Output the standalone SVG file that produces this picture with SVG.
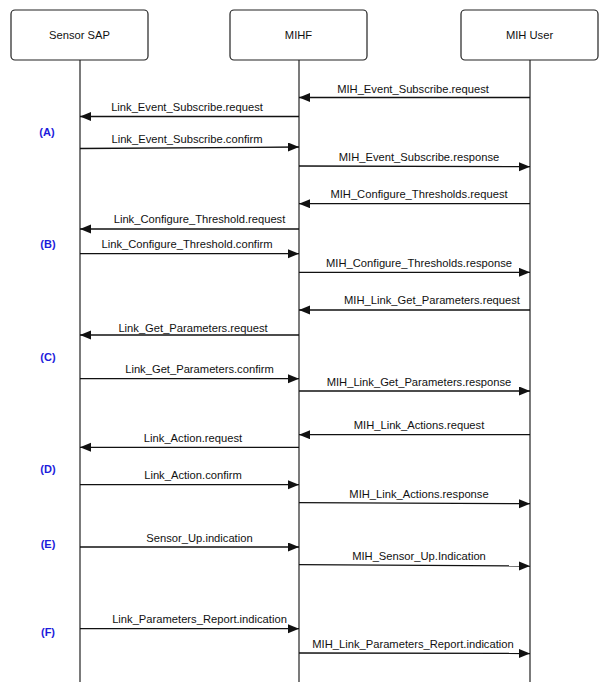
<svg xmlns="http://www.w3.org/2000/svg" width="612" height="682" viewBox="0 0 612 682">
<style>
.box{fill:#fff;stroke:#222;stroke-width:1.2}
.life{stroke:#222;stroke-width:1.2;fill:none}
.msg{stroke:#111;stroke-width:1.3;fill:none;marker-end:url(#ah)}
.t{font-family:"Liberation Sans",Arial,sans-serif;font-size:11.2px;fill:#111;text-anchor:middle}
.lbl{font-family:"Liberation Sans",Arial,sans-serif;font-size:11px;font-weight:bold;fill:#1c1cdc;text-anchor:middle}
</style>
<defs>
<marker id="ah" markerUnits="userSpaceOnUse" markerWidth="12" markerHeight="10" refX="11" refY="4.5" orient="auto">
<path d="M0,0 L11,4.5 L0,9 z" fill="#111"/>
</marker>
</defs>
<rect width="612" height="682" fill="#fff"/>
<g id="sensor-sap">
<rect class="box" x="11" y="10" width="137" height="50" rx="4"/>
<text class="t" x="79.5" y="39">Sensor SAP</text>
<line class="life" x1="80" y1="60" x2="80" y2="682"/>
</g>
<g id="mihf">
<rect class="box" x="230" y="10" width="137" height="50" rx="4"/>
<text class="t" x="298.5" y="39">MIHF</text>
<line class="life" x1="299" y1="60" x2="299" y2="682"/>
</g>
<g id="mih-user">
<rect class="box" x="461" y="10" width="137" height="50" rx="4"/>
<text class="t" x="529.5" y="39">MIH User</text>
<line class="life" x1="530" y1="60" x2="530" y2="682"/>
</g>
<g id="phase-labels">
<text class="lbl" x="47" y="136">(A)</text>
<text class="lbl" x="48" y="248">(B)</text>
<text class="lbl" x="48" y="361">(C)</text>
<text class="lbl" x="48" y="473">(D)</text>
<text class="lbl" x="48" y="548">(E)</text>
<text class="lbl" x="48" y="636">(F)</text>
</g>
<g id="connectors">
<line class="msg" x1="530" y1="97.5" x2="299" y2="97.5"/>
<text class="t" x="413" y="93">MIH_Event_Subscribe.request</text>
<line class="msg" x1="299" y1="116.5" x2="80" y2="116.5"/>
<text class="t" x="187" y="111">Link_Event_Subscribe.request</text>
<line class="msg" x1="80" y1="148.5" x2="299" y2="147"/>
<text class="t" x="187" y="143">Link_Event_Subscribe.confirm</text>
<line class="msg" x1="299" y1="166" x2="530" y2="166.7"/>
<text class="t" x="419" y="161">MIH_Event_Subscribe.response</text>

<line class="msg" x1="530" y1="203.7" x2="299" y2="203.7"/>
<text class="t" x="419" y="198">MIH_Configure_Thresholds.request</text>
<line class="msg" x1="299" y1="229" x2="80" y2="229"/>
<text class="t" x="199.5" y="223">Link_Configure_Threshold.request</text>
<line class="msg" x1="80" y1="253.7" x2="299" y2="253.7"/>
<text class="t" x="187" y="248">Link_Configure_Threshold.confirm</text>
<line class="msg" x1="299" y1="272.3" x2="530" y2="272.3"/>
<text class="t" x="419" y="266.5">MIH_Configure_Thresholds.response</text>

<line class="msg" x1="530" y1="310" x2="299" y2="310"/>
<text class="t" x="432" y="304">MIH_Link_Get_Parameters.request</text>
<line class="msg" x1="299" y1="335" x2="80" y2="335"/>
<text class="t" x="193" y="332">Link_Get_Parameters.request</text>
<line class="msg" x1="80" y1="378.7" x2="299" y2="378.7"/>
<text class="t" x="199.5" y="373">Link_Get_Parameters.confirm</text>
<line class="msg" x1="299" y1="391" x2="530" y2="391"/>
<text class="t" x="419" y="385.5">MIH_Link_Get_Parameters.response</text>

<line class="msg" x1="530" y1="434.7" x2="299" y2="434.7"/>
<text class="t" x="419" y="429">MIH_Link_Actions.request</text>
<line class="msg" x1="299" y1="447.3" x2="80" y2="447.3"/>
<text class="t" x="193" y="441.5">Link_Action.request</text>
<line class="msg" x1="80" y1="484.7" x2="299" y2="484.7"/>
<text class="t" x="193" y="479">Link_Action.confirm</text>
<line class="msg" x1="299" y1="502.7" x2="530" y2="503.7"/>
<text class="t" x="419" y="498">MIH_Link_Actions.response</text>

<line class="msg" x1="80" y1="547" x2="299" y2="547"/>
<text class="t" x="199.5" y="541.5">Sensor_Up.indication</text>
<line class="msg" x1="299" y1="564.7" x2="530" y2="566"/>
<text class="t" x="419" y="560">MIH_Sensor_Up.Indication</text>

<line class="msg" x1="80" y1="628.7" x2="299" y2="628.7"/>
<text class="t" x="199.5" y="623">Link_Parameters_Report.indication</text>
<line class="msg" x1="299" y1="653" x2="530" y2="653.5"/>
<text class="t" x="413" y="648">MIH_Link_Parameters_Report.indication</text>
</g>
</svg>
